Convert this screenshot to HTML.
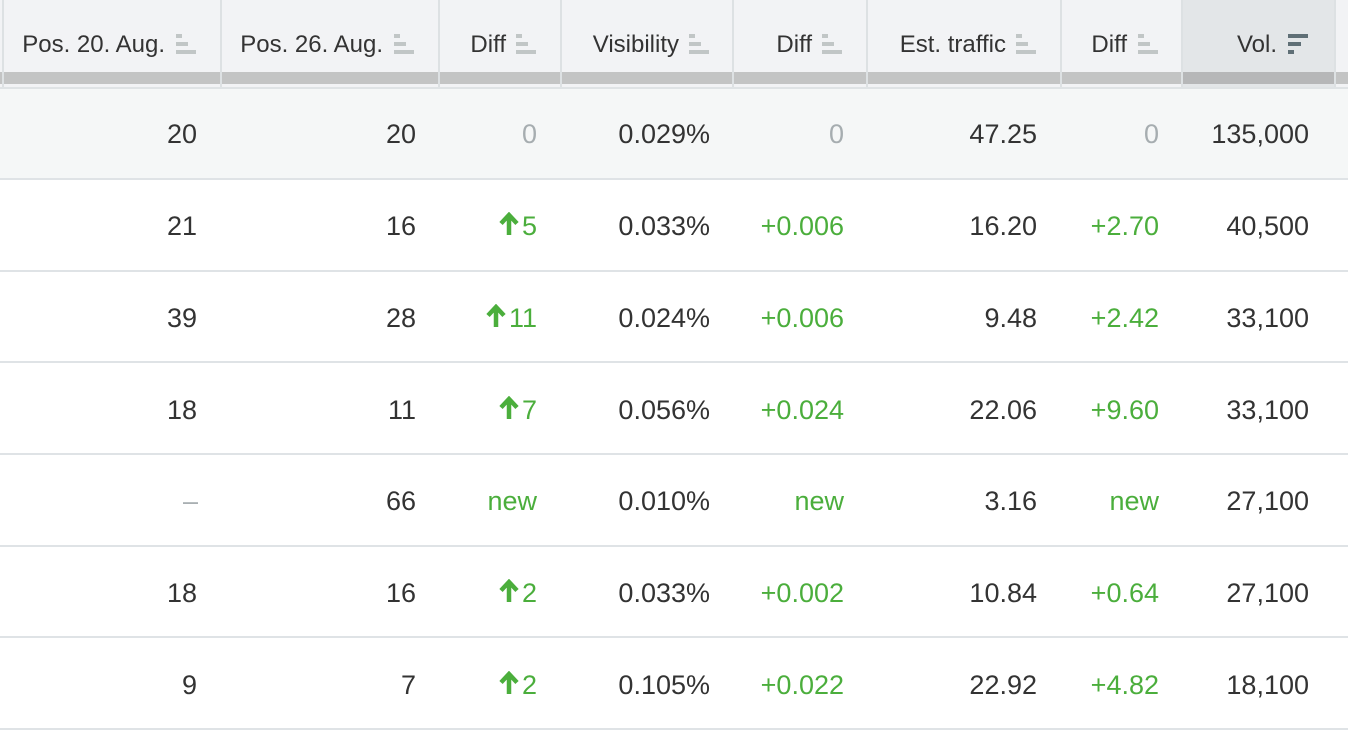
<!DOCTYPE html>
<html><head><meta charset="utf-8">
<style>
*{margin:0;padding:0;box-sizing:border-box}
html,body{width:1348px;height:732px;overflow:hidden;background:#fff}
body{position:relative;font-family:"Liberation Sans",sans-serif;color:#333}
.abs{position:absolute}
.hdr{position:absolute;left:0;top:0;width:1348px;height:88px;background:#f2f3f5}
.volbg{position:absolute;left:1182px;top:0;width:152px;height:88px;background:#e3e6e8}
.band{position:absolute;left:0;top:72px;width:1348px;height:12px;background:#c3c4c4}
.bandv{position:absolute;left:1182px;top:72px;width:152px;height:12px;background:#b6b7b8}
.hline{position:absolute;left:0;top:87px;width:1348px;height:2px;background:#dfe3e5}
.vsep{position:absolute;top:0;width:2px;height:88px;background:#dde1e3}
.ht{position:absolute;top:0;height:89px;line-height:89px;font-size:24px;color:#333;white-space:nowrap;text-align:right}
.ic{position:absolute;height:4px;background:#c1c6c6}
.icd{position:absolute;height:4px;background:#5f6f76}
.row1{position:absolute;left:0;top:89px;width:1348px;height:90px;background:#f5f7f7}
.rb{position:absolute;left:0;width:1348px;height:2px;background:#dfe3e6}
.c{position:absolute;font-size:27px;white-space:nowrap;text-align:right;color:#333}
.g{color:#4bae3c}
.gr{color:#a6adb0}
svg.ar{display:inline-block;vertical-align:baseline;margin-right:3px}
</style></head><body>
<div class="hdr"></div>
<div class="volbg"></div>
<div class="band"></div>
<div class="bandv"></div>
<div class="vsep" style="left:2px"></div>
<div class="vsep" style="left:220px"></div>
<div class="vsep" style="left:438px"></div>
<div class="vsep" style="left:560px"></div>
<div class="vsep" style="left:732px"></div>
<div class="vsep" style="left:866px"></div>
<div class="vsep" style="left:1060px"></div>
<div class="vsep" style="left:1181px"></div>
<div class="vsep" style="left:1334px"></div>
<div class="hline"></div>

<!-- header texts -->
<div class="ht" style="right:1183px">Pos. 20. Aug.</div>
<div class="ic" style="left:176px;top:34px;width:6px"></div>
<div class="ic" style="left:176px;top:42px;width:12px"></div>
<div class="ic" style="left:176px;top:50px;width:20px"></div>

<div class="ht" style="right:965px">Pos. 26. Aug.</div>
<div class="ic" style="left:394px;top:34px;width:6px"></div>
<div class="ic" style="left:394px;top:42px;width:12px"></div>
<div class="ic" style="left:394px;top:50px;width:20px"></div>

<div class="ht" style="right:842px">Diff</div>
<div class="ic" style="left:516px;top:34px;width:6px"></div>
<div class="ic" style="left:516px;top:42px;width:12px"></div>
<div class="ic" style="left:516px;top:50px;width:20px"></div>

<div class="ht" style="right:669px">Visibility</div>
<div class="ic" style="left:689px;top:34px;width:6px"></div>
<div class="ic" style="left:689px;top:42px;width:12px"></div>
<div class="ic" style="left:689px;top:50px;width:20px"></div>

<div class="ht" style="right:536px">Diff</div>
<div class="ic" style="left:822px;top:34px;width:6px"></div>
<div class="ic" style="left:822px;top:42px;width:12px"></div>
<div class="ic" style="left:822px;top:50px;width:20px"></div>

<div class="ht" style="right:342px">Est. traffic</div>
<div class="ic" style="left:1016px;top:34px;width:6px"></div>
<div class="ic" style="left:1016px;top:42px;width:12px"></div>
<div class="ic" style="left:1016px;top:50px;width:20px"></div>

<div class="ht" style="right:221px">Diff</div>
<div class="ic" style="left:1138px;top:34px;width:6px"></div>
<div class="ic" style="left:1138px;top:42px;width:12px"></div>
<div class="ic" style="left:1138px;top:50px;width:20px"></div>

<div class="ht" style="right:71px">Vol.</div>
<div class="icd" style="left:1288px;top:34px;width:20px"></div>
<div class="icd" style="left:1288px;top:42px;width:13px"></div>
<div class="icd" style="left:1288px;top:50px;width:6px"></div>

<!-- rows -->
<div class="row1"></div>
<div class="rb" style="top:178px"></div>
<div class="rb" style="top:270px"></div>
<div class="rb" style="top:361px"></div>
<div class="rb" style="top:453px"></div>
<div class="rb" style="top:545px"></div>
<div class="rb" style="top:636px"></div>
<div class="rb" style="top:728px"></div>

<!-- row 1: center 134 -->
<div class="c" style="top:88px;height:92px;line-height:92px;right:1151px">20</div>
<div class="c" style="top:88px;height:92px;line-height:92px;right:932px">20</div>
<div class="c gr" style="top:88px;height:92px;line-height:92px;right:811px">0</div>
<div class="c" style="top:88px;height:92px;line-height:92px;right:638px">0.029%</div>
<div class="c gr" style="top:88px;height:92px;line-height:92px;right:504px">0</div>
<div class="c" style="top:88px;height:92px;line-height:92px;right:311px">47.25</div>
<div class="c gr" style="top:88px;height:92px;line-height:92px;right:189px">0</div>
<div class="c" style="top:88px;height:92px;line-height:92px;right:39px">135,000</div>

<!-- row 2: center 226 -->
<div class="c" style="top:180px;height:92px;line-height:92px;right:1151px">21</div>
<div class="c" style="top:180px;height:92px;line-height:92px;right:932px">16</div>
<div class="c g" style="top:180px;height:92px;line-height:92px;right:811px"><svg class="ar" width="20" height="23" viewBox="0 0 20 23"><path d="M10 4 V23 M2 11.5 L10 3 L18 11.5" fill="none" stroke="#4bae3c" stroke-width="4.5"/></svg>5</div>
<div class="c" style="top:180px;height:92px;line-height:92px;right:638px">0.033%</div>
<div class="c g" style="top:180px;height:92px;line-height:92px;right:504px">+0.006</div>
<div class="c" style="top:180px;height:92px;line-height:92px;right:311px">16.20</div>
<div class="c g" style="top:180px;height:92px;line-height:92px;right:189px">+2.70</div>
<div class="c" style="top:180px;height:92px;line-height:92px;right:39px">40,500</div>

<!-- row 3: center 318 -->
<div class="c" style="top:272px;height:92px;line-height:92px;right:1151px">39</div>
<div class="c" style="top:272px;height:92px;line-height:92px;right:932px">28</div>
<div class="c g" style="top:272px;height:92px;line-height:92px;right:811px"><svg class="ar" width="20" height="23" viewBox="0 0 20 23"><path d="M10 4 V23 M2 11.5 L10 3 L18 11.5" fill="none" stroke="#4bae3c" stroke-width="4.5"/></svg>11</div>
<div class="c" style="top:272px;height:92px;line-height:92px;right:638px">0.024%</div>
<div class="c g" style="top:272px;height:92px;line-height:92px;right:504px">+0.006</div>
<div class="c" style="top:272px;height:92px;line-height:92px;right:311px">9.48</div>
<div class="c g" style="top:272px;height:92px;line-height:92px;right:189px">+2.42</div>
<div class="c" style="top:272px;height:92px;line-height:92px;right:39px">33,100</div>

<!-- row 4: center 410 -->
<div class="c" style="top:364px;height:92px;line-height:92px;right:1151px">18</div>
<div class="c" style="top:364px;height:92px;line-height:92px;right:932px">11</div>
<div class="c g" style="top:364px;height:92px;line-height:92px;right:811px"><svg class="ar" width="20" height="23" viewBox="0 0 20 23"><path d="M10 4 V23 M2 11.5 L10 3 L18 11.5" fill="none" stroke="#4bae3c" stroke-width="4.5"/></svg>7</div>
<div class="c" style="top:364px;height:92px;line-height:92px;right:638px">0.056%</div>
<div class="c g" style="top:364px;height:92px;line-height:92px;right:504px">+0.024</div>
<div class="c" style="top:364px;height:92px;line-height:92px;right:311px">22.06</div>
<div class="c g" style="top:364px;height:92px;line-height:92px;right:189px">+9.60</div>
<div class="c" style="top:364px;height:92px;line-height:92px;right:39px">33,100</div>

<!-- row 5: center 501 -->
<div class="c" style="top:455px;height:92px;line-height:92px;right:1150px;color:#a9afb2">–</div>
<div class="c" style="top:455px;height:92px;line-height:92px;right:932px">66</div>
<div class="c g" style="top:455px;height:92px;line-height:92px;right:811px">new</div>
<div class="c" style="top:455px;height:92px;line-height:92px;right:638px">0.010%</div>
<div class="c g" style="top:455px;height:92px;line-height:92px;right:504px">new</div>
<div class="c" style="top:455px;height:92px;line-height:92px;right:311px">3.16</div>
<div class="c g" style="top:455px;height:92px;line-height:92px;right:189px">new</div>
<div class="c" style="top:455px;height:92px;line-height:92px;right:39px">27,100</div>

<!-- row 6: center 593 -->
<div class="c" style="top:547px;height:92px;line-height:92px;right:1151px">18</div>
<div class="c" style="top:547px;height:92px;line-height:92px;right:932px">16</div>
<div class="c g" style="top:547px;height:92px;line-height:92px;right:811px"><svg class="ar" width="20" height="23" viewBox="0 0 20 23"><path d="M10 4 V23 M2 11.5 L10 3 L18 11.5" fill="none" stroke="#4bae3c" stroke-width="4.5"/></svg>2</div>
<div class="c" style="top:547px;height:92px;line-height:92px;right:638px">0.033%</div>
<div class="c g" style="top:547px;height:92px;line-height:92px;right:504px">+0.002</div>
<div class="c" style="top:547px;height:92px;line-height:92px;right:311px">10.84</div>
<div class="c g" style="top:547px;height:92px;line-height:92px;right:189px">+0.64</div>
<div class="c" style="top:547px;height:92px;line-height:92px;right:39px">27,100</div>

<!-- row 7: center 685 -->
<div class="c" style="top:639px;height:92px;line-height:92px;right:1151px">9</div>
<div class="c" style="top:639px;height:92px;line-height:92px;right:932px">7</div>
<div class="c g" style="top:639px;height:92px;line-height:92px;right:811px"><svg class="ar" width="20" height="23" viewBox="0 0 20 23"><path d="M10 4 V23 M2 11.5 L10 3 L18 11.5" fill="none" stroke="#4bae3c" stroke-width="4.5"/></svg>2</div>
<div class="c" style="top:639px;height:92px;line-height:92px;right:638px">0.105%</div>
<div class="c g" style="top:639px;height:92px;line-height:92px;right:504px">+0.022</div>
<div class="c" style="top:639px;height:92px;line-height:92px;right:311px">22.92</div>
<div class="c g" style="top:639px;height:92px;line-height:92px;right:189px">+4.82</div>
<div class="c" style="top:639px;height:92px;line-height:92px;right:39px">18,100</div>
</body></html>
